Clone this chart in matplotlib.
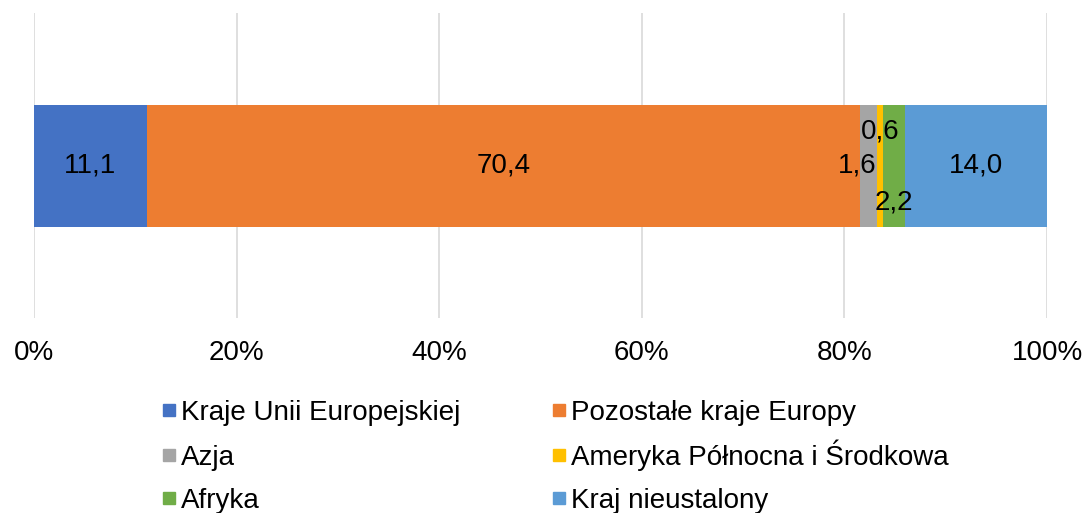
import matplotlib.pyplot as plt
import numpy as np
from matplotlib.patches import Rectangle

plt.rcParams['font.family'] = ['Liberation Sans', 'DejaVu Sans']

regiony = ['Kraje Unii Europejskiej', 'Pozostałe kraje Europy', 'Azja',
           'Ameryka Północna i Środkowa', 'Afryka', 'Kraj nieustalony']
wartosci = [11.1, 70.4, 1.6, 0.6, 2.2, 14.0]
etykiety = ['11,1', '70,4', '1,6', '0,6', '2,2', '14,0']
kolory = ['#4472C4', '#ED7D31', '#A5A5A5', '#FFC000', '#70AD47', '#5B9BD5']
ticki = [0, 20, 40, 60, 80, 100]

fs = 20
W, H = 1088, 513
fig = plt.figure(figsize=(W / 100, H / 100), dpi=100)
ax = fig.add_axes([34 / W, 1 - 318 / H, (1047 - 34) / W, 305 / H])

suma = sum(wartosci)
udzialy = [w / suma * 100 for w in wartosci]
lewo = 0
segmenty = []
for u, k in zip(udzialy, kolory):
    ax.barh(0, u, left=lewo, height=0.4, color=k, zorder=2)
    segmenty.append((lewo, lewo + u))
    lewo += u

# etykiety danych - male segmenty przesuniete jak w Excelu
for i, (a, b) in enumerate(segmenty):
    txt = etykiety[i]
    if i == 2:
        ax.text(b, 0, txt, ha='right', va='center', fontsize=fs, zorder=3)
    elif i == 3:
        ax.text((a + b) / 2, 0.11, txt, ha='center', va='center', fontsize=fs, zorder=3)
    elif i == 4:
        ax.text((a + b) / 2, -0.12, txt, ha='center', va='center', fontsize=fs, zorder=3)
    else:
        ax.text((a + b) / 2, 0, txt, ha='center', va='center', fontsize=fs, zorder=3)

ax.set_xlim(0, 100)
ax.set_ylim(-0.5, 0.5)
ax.set_xticks(ticki)
ax.set_xticklabels([f'{t}%' for t in ticki], fontsize=fs)
ax.tick_params(axis='x', length=0, pad=16)
ax.set_yticks([])
for s in ax.spines.values():
    s.set_visible(False)
ax.grid(axis='x', color='#D9D9D9', linewidth=1.2, zorder=0)

# legenda: 2 kolumny, wiersze wypelniane poziomo
kol_x = [163, 553]
wiersz_y = [410, 455, 498]
for i, (r, k) in enumerate(zip(regiony, kolory)):
    x = kol_x[i % 2]
    y = wiersz_y[i // 2]
    fig.patches.append(Rectangle((x / W, 1 - (y + 6) / H), 12 / W, 12 / H,
                                 transform=fig.transFigure, color=k))
    fig.text((x + 18) / W, 1 - (y + 10) / H, r, fontsize=fs, va='baseline', ha='left')

fig.savefig('out.png', dpi=100)
